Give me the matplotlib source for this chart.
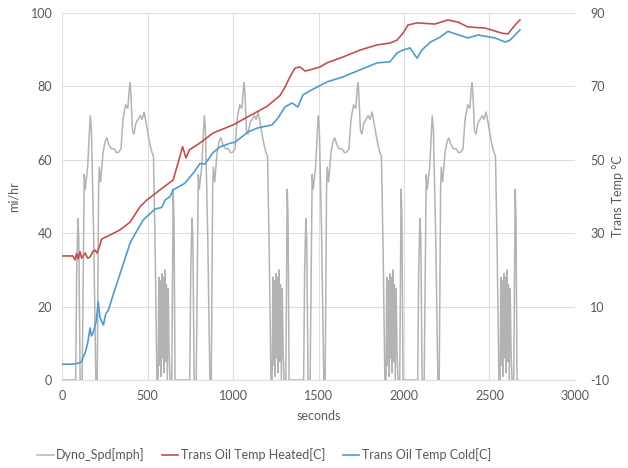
import matplotlib.pyplot as plt
from matplotlib.lines import Line2D

plt.rcParams['font.family'] = ['Lato', 'DejaVu Sans']
plt.rcParams['axes.unicode_minus'] = False

# One dyno speed schedule (seconds within the first run, mph), driven four times
cycle_t = [0, 80, 86, 93, 98, 106, 118, 130, 136, 150,
           165, 172, 185, 198, 206, 214, 218, 226, 240, 252,
           262, 275, 290, 305, 318, 330, 345, 357, 372, 385,
           393, 398, 403, 412, 421, 432, 445, 458, 468, 480,
           492, 503, 515, 526, 535, 545, 555, 562, 566, 570,
           575, 579, 584, 588, 593, 597, 602, 606, 611, 616,
           621, 626, 632, 642, 650, 655, 661, 667]
cycle_mph = [0, 0, 30, 44, 39, 0, 0, 56, 52, 58,
             72, 68, 40, 0, 0, 52, 58, 54, 62, 65,
             66, 64, 63, 63, 62, 62, 63, 71, 75, 74,
             79, 81, 78, 68, 67, 70, 71, 72, 71, 73,
             70, 67, 64, 62, 61, 35, 0, 0, 28, 4,
             27, 1, 29, 6, 28, 2, 30, 5, 26, 0,
             25, 8, 0, 0, 52, 44, 0, 0]
cycle_starts = [0, 667, 1333, 2000]

# Trans oil temperature, heated start (C)
heated_t = [0, 64, 76, 85, 95, 105, 115, 135, 150, 164,
            180, 193, 205, 220, 232, 281, 339, 398, 456, 495,
            573, 650, 690, 705, 725, 745, 807, 884, 1000, 1078,
            1197, 1275, 1304, 1333, 1363, 1392, 1421, 1450, 1509, 1549,
            1643, 1743, 1842, 1918, 1959, 1994, 2023, 2076, 2181, 2257,
            2316, 2374, 2474, 2573, 2608, 2649, 2678]
heated_c = [23.8, 23.8, 22.7, 24.5, 23, 25, 23.2, 24.6, 23.2, 23.5,
            25, 25.4, 24.6, 26.5, 28.4, 29.5, 30.9, 33, 37.2, 39,
            41.8, 44.5, 51, 53.6, 50.5, 52.7, 54.6, 57.3, 59.5, 61.5,
            64.5, 67.5, 69.8, 72.6, 75, 75.3, 74.2, 74.5, 75.3, 76.4,
            78, 79.9, 81.3, 81.8, 82.6, 84.5, 86.7, 87.3, 87, 88.1,
            87.5, 86.2, 85.9, 84.5, 84.3, 86.7, 88.1]

# Trans oil temperature, cold start (C)
cold_t = [0, 64, 95, 115, 125, 135, 150, 164, 172, 183,
          200, 212, 222, 242, 256, 271, 299, 340, 398, 430,
          475, 544, 583, 602, 632, 650, 718, 768, 807, 836,
          884, 924, 982, 1012, 1088, 1146, 1228, 1263, 1304, 1345,
          1380, 1409, 1450, 1549, 1643, 1743, 1842, 1918, 1959, 1994,
          2035, 2076, 2105, 2152, 2210, 2257, 2374, 2433, 2532, 2591,
          2620, 2649, 2678]
cold_c = [-5.7, -5.7, -5.4, -5, -3.5, -2.7, 0, 4.2, 2, 3,
          6, 11.3, 7, 5, 8, 9, 13.2, 19, 27.3, 30,
          33.6, 36.6, 37, 39, 40, 41.8, 43.6, 46.4, 49, 48.8,
          52, 53.5, 54.5, 54.8, 57.6, 58.7, 59.5, 61.4, 64.4, 65.5,
          64.4, 67.7, 68.8, 71.2, 72.6, 74.5, 76.4, 76.7, 79.1, 79.9,
          80.5, 77.7, 79.9, 82, 83.4, 85, 83.2, 84, 83.2, 82.1,
          82.6, 84, 85.4]

spd_t, spd_v = [], []
for start in cycle_starts:
    spd_t += [start + t for t in cycle_t]
    spd_v += cycle_mph

txt = '#595959'
grid = '#dedede'
c_spd = '#b3b3b3'
c_hot = '#c0504d'
c_cold = '#4f9bd0'

fig = plt.figure(figsize=(6.28, 4.68), dpi=100)
ax = fig.add_axes([62 / 628, 1 - 380 / 468, 513 / 628, 367 / 468])
ax2 = ax.twinx()

ax.plot(spd_t, spd_v, color=c_spd, lw=1.1)
ax2.plot(heated_t, heated_c, color=c_hot, lw=1.2)
ax2.plot(cold_t, cold_c, color=c_cold, lw=1.2)

ax.set_xlim(0, 3000)
ax.set_ylim(0, 100)
ax2.set_ylim(-10, 90)
ax.set_xticks(range(0, 3001, 500))
ax.set_yticks(range(0, 101, 20))
ax2.set_yticks(range(-10, 91, 20))

ax.grid(True, color=grid, lw=0.8)
ax.set_axisbelow(True)
for a in (ax, ax2):
    for s in a.spines.values():
        s.set_visible(False)
    a.tick_params(length=0, labelsize=9, colors=txt)
ax.spines['bottom'].set_visible(True)
ax.spines['bottom'].set_color(grid)
ax.tick_params(axis='y', pad=7)
ax.tick_params(axis='x', pad=7)
ax2.tick_params(axis='y', pad=11)

ax.set_xlabel('seconds', fontsize=9, color=txt, labelpad=6)
ax.set_ylabel('mi/hr', fontsize=9, color=txt, labelpad=8)
ax2.set_ylabel('Trans Temp °C', fontsize=9, color=txt, labelpad=2)

handles = [Line2D([], [], color=c_spd, lw=1.1),
           Line2D([], [], color=c_hot, lw=1.2),
           Line2D([], [], color=c_cold, lw=1.2)]
labels = ['Dyno_Spd[mph]', 'Trans Oil Temp Heated[C]', 'Trans Oil Temp Cold[C]']
fig.legend(handles, labels, loc='center', bbox_to_anchor=(264 / 628, 1 - 455 / 468),
           ncol=3, frameon=False, fontsize=9, labelcolor=txt,
           handlelength=1.3, handletextpad=0.2, columnspacing=1.4)

fig.savefig('out.png', dpi=100)
